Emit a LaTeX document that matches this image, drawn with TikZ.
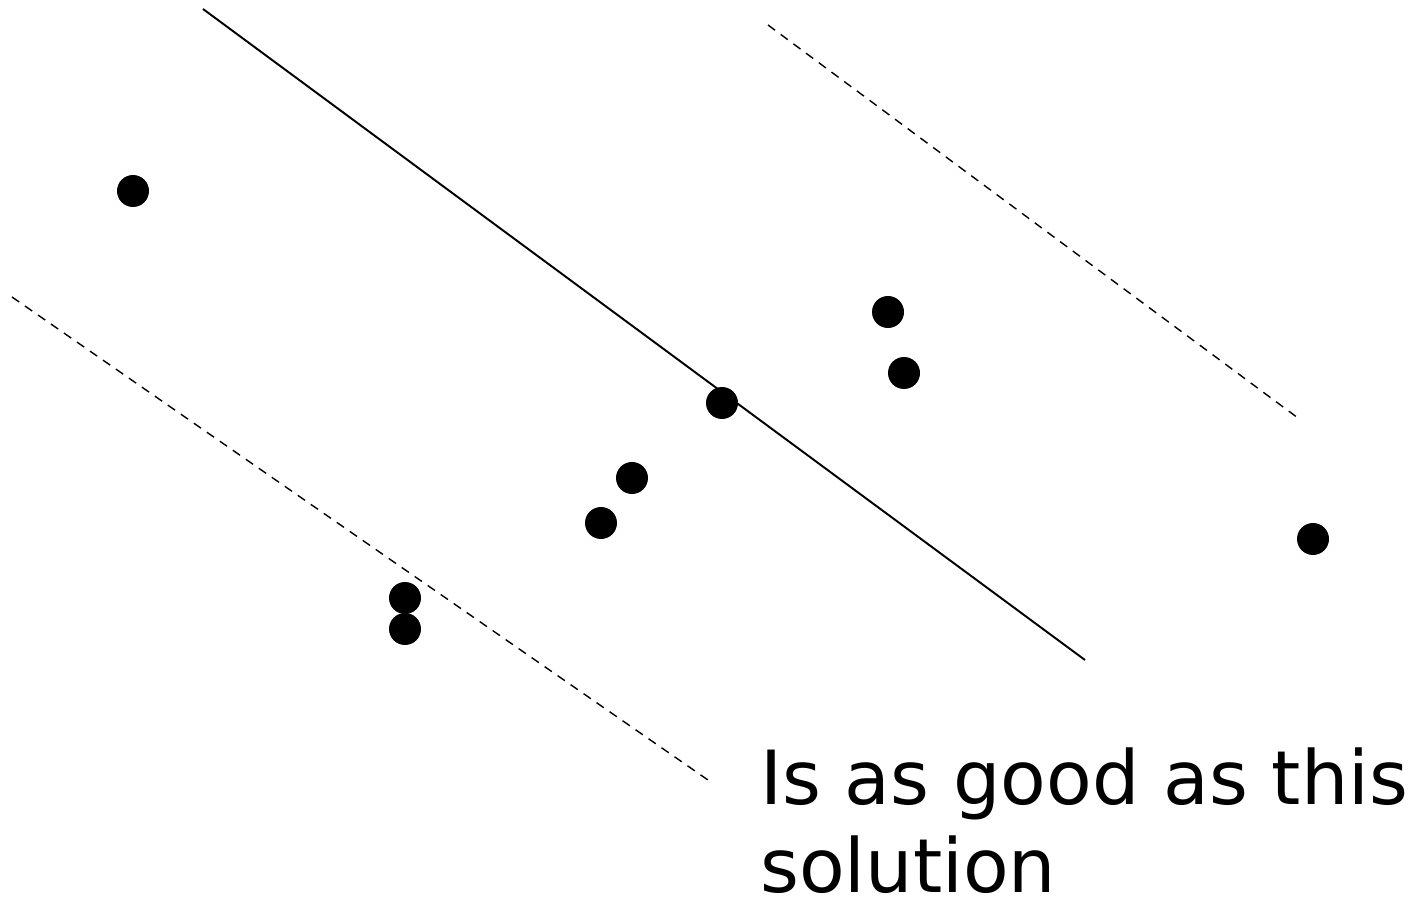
\documentclass[tikz,border=0pt]{standalone}
\usepackage{fontspec}
\setmainfont{DejaVu Sans}
\usetikzlibrary{positioning}

\begin{document}
\begin{tikzpicture}[
  x=0.02cm,y=-0.02cm,
  pt/.style={circle,fill=black,inner sep=0pt,minimum size=0.64cm},
  margin/.style={line width=0.8pt,dash pattern=on 5pt off 4pt},
  sep/.style={line width=1.1pt},
  lbl/.style={font=\fontsize{42.5}{50}\selectfont,align=left,inner sep=0pt}
]
  \useasboundingbox (0,0) rectangle (1428,902);

  % Separating line and its two margins
  \coordinate (s1) at (203,9);    \coordinate (s2) at (1085,660);
  \coordinate (u1) at (768,25);   \coordinate (u2) at (1298,418);
  \coordinate (l1) at (12,297);   \coordinate (l2) at (708,780);
  \draw[sep] (s1) -- (s2);
  \draw[margin] (u1) -- (u2);
  \draw[margin] (l1) -- (l2);

  % Data points
  \node[pt] (p1) at (133,191) {};
  \node[pt] (p2) at (888,312) {};
  \node[pt] (p3) at (904,373) {};
  \node[pt] (p4) at (722,403) {};
  \node[pt] (p5) at (632,478) {};
  \node[pt] (p6) at (601,523) {};
  \node[pt] (p7) at (405,598) {};
  \node[pt] (p8) at (405,629) {};
  \node[pt] (p9) at (1313,539) {};

  % Caption (anchored on the last line)
  \node[lbl,anchor=base west] (cap) at (760,892) {Is as good as this\\solution};
\end{tikzpicture}
\end{document}
